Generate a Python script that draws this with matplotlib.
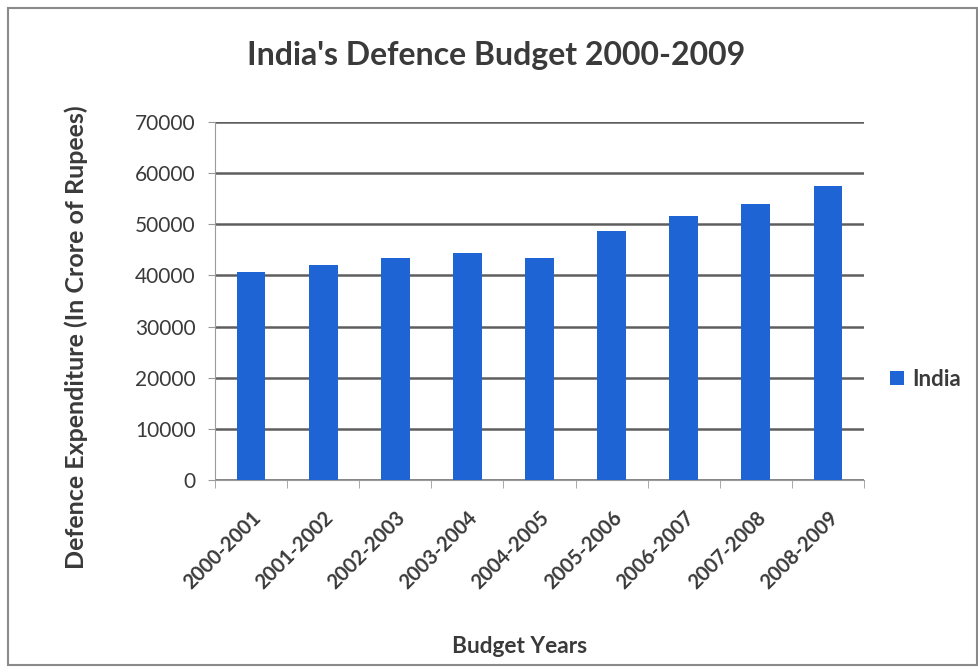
import matplotlib
matplotlib.use("Agg")
import matplotlib.pyplot as plt
from matplotlib.patches import Rectangle
import numpy as np

# datos
years = ['2000-2001', '2001-2002', '2002-2003', '2003-2004', '2004-2005',
         '2005-2006', '2006-2007', '2007-2008', '2008-2009']
india = [40600, 41950, 43500, 44400, 43500, 48750, 51550, 54050, 57500]

plt.rcParams['font.family'] = ['Lato', 'DejaVu Sans']
txt = '#3a3a3a'
blue = '#1e64d4'

fig = plt.figure(figsize=(9.79, 6.72), dpi=100)
fig.patches.append(Rectangle((8 / 979, 7 / 672), 969 / 979, 657 / 672, transform=fig.transFigure,
                             fill=False, edgecolor='#8a8a8a', linewidth=1.5))

ax = fig.add_axes([215 / 979, 1 - 480 / 672, 649 / 979, 358 / 672])
x = np.arange(len(years))
ax.bar(x, india, width=0.4, color=blue, label='India', zorder=3)

ax.set_xlim(-0.5, len(years) - 0.5)
ax.set_ylim(0, 70000)
ax.set_yticks(range(0, 70001, 10000))
ax.yaxis.grid(True, color='#5e5e5e', linewidth=1.8, zorder=0)
ax.tick_params(axis='y', labelsize=15, colors='#9a9a9a', labelcolor=txt, length=5, pad=9)

ax.set_xticks(x)
ax.set_xticklabels(years, rotation=45, ha='right', rotation_mode='anchor',
                   fontsize=14.5, fontweight='bold', color=txt)
ax.set_xticks(np.arange(-0.5, len(years)), minor=True)
ax.tick_params(axis='x', which='major', length=0, pad=20)
ax.tick_params(axis='x', which='minor', length=6, color='#9a9a9a')

for s in ['top', 'right']:
    ax.spines[s].set_visible(False)
ax.spines['left'].set_color('#9a9a9a')
ax.spines['bottom'].set_color('#9a9a9a')

ax.set_ylabel('Defence Expenditure (In Crore of Rupees)', fontsize=18,
              fontweight='bold', color=txt)
ax.yaxis.set_label_coords(-0.196, 0.40)
ax.set_xlabel('Budget Years', fontsize=16.3, fontweight='bold', color=txt)
ax.xaxis.set_label_coords(0.47, -0.435)

fig.text(0.507, 0.918, "India's Defence Budget 2000-2009", ha='center', va='center',
         fontsize=23, fontweight='bold', color=txt)

ax.legend(loc='center left', bbox_to_anchor=(1.01, 0.28), frameon=False,
          handlelength=0.6, handleheight=0.6, handletextpad=0.4,
          prop={'weight': 'bold', 'size': 16})
for t in ax.get_legend().get_texts():
    t.set_color(txt)

fig.savefig('out.png', dpi=100)
